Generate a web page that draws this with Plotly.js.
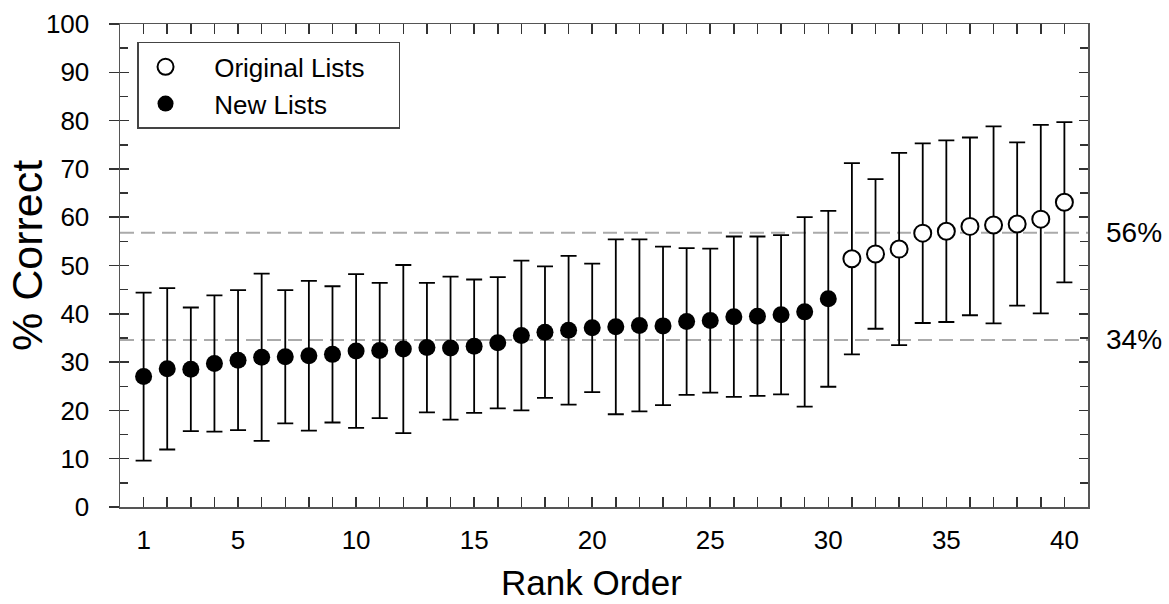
<!DOCTYPE html>
<html>
<head>
<meta charset="utf-8">
<script src="https://cdn.plot.ly/plotly-3.0.1.min.js"></script>
<style>
  html, body { margin: 0; padding: 0; background: #fff; }
  #chart { width: 1169px; height: 604px; }
</style>
</head>
<body>
<div id="chart"></div>
<script>
// Rank order positions
const newRanks = [1,2,3,4,5,6,7,8,9,10,11,12,13,14,15,16,17,18,19,20,21,22,23,24,25,26,27,28,29,30];
const origRanks = [31,32,33,34,35,36,37,38,39,40];

// Mean % correct
const newMeans = [27.0,28.6,28.5,29.7,30.4,31.0,31.1,31.3,31.6,32.3,32.4,32.7,33.0,32.9,33.3,34.0,35.5,36.2,36.6,37.1,37.3,37.6,37.5,38.4,38.6,39.4,39.5,39.8,40.4,43.1];
const origMeans = [51.4,52.4,53.4,56.7,57.1,58.1,58.4,58.6,59.6,63.1];

// Standard deviations (error bars)
const newSD = [17.4,16.7,12.8,14.1,14.5,17.3,13.8,15.5,14.1,15.9,14.0,17.4,13.4,14.8,13.8,13.6,15.5,13.6,15.4,13.3,18.1,17.8,16.4,15.2,14.9,16.6,16.5,16.5,19.6,18.2];
const origSD = [19.8,15.5,19.9,18.6,18.8,18.4,20.4,16.9,19.5,16.6];

// Reference lines (group means)
const refValues = [56.8, 34.6];
const refLabels = ["56%", "34%"];

const seriesNames = ["Original Lists", "New Lists"];
const xTitle = "Rank Order";
const yTitle = "% Correct";

const xTickVals = [1,5,10,15,20,25,30,35,40];
const xTickText = ["1","5","10","15","20","25","30","35","40"];

const FONT = "Liberation Sans, Arial, sans-serif";
const PAD_L = "\u00A0\u00A0\u00A0";
const PAD_R = "\u00A0\u00A0\u00A0\u00A0";

const traces = [
  {
    x: origRanks, y: origMeans, type: "scatter", mode: "markers",
    name: PAD_L + seriesNames[0] + PAD_R, legendgroup: "a",
    marker: { symbol: "circle", size: 17, color: "#ffffff", line: { color: "#000", width: 2 } },
    error_y: { type: "data", array: origSD, visible: true, color: "#000", thickness: 1.8, width: 8 },
    hoverinfo: "x+y"
  },
  {
    x: newRanks, y: newMeans, type: "scatter", mode: "markers",
    name: PAD_L + seriesNames[1], legendgroup: "b",
    marker: { symbol: "circle", size: 17, color: "#000000", line: { color: "#000", width: 0 } },
    error_y: { type: "data", array: newSD, visible: true, color: "#000", thickness: 1.8, width: 8 },
    hoverinfo: "x+y"
  },
  {
    x: [null], y: [null], type: "scatter", mode: "markers", yaxis: "y2",
    showlegend: false, hoverinfo: "skip"
  }
];

const shapes = refValues.map(v => ({
  type: "line", xref: "x", yref: "y", x0: 0, x1: 41, y0: v, y1: v,
  line: { color: "#aaaaaa", width: 2, dash: "14px,7px" }, layer: "below"
}));

const annotations = refValues.map((v, i) => ({
  xref: "paper", yref: "y", x: 1.017, y: v, xanchor: "left", yanchor: "middle",
  text: refLabels[i], showarrow: false, font: { family: FONT, size: 28, color: "#000" }
}));

annotations.push({
  xref: "paper", yref: "paper", x: -0.0961, y: 0.5217, xanchor: "center", yanchor: "middle",
  text: yTitle, textangle: -90, showarrow: false, font: { family: FONT, size: 43, color: "#000" }
});
annotations.push({
  xref: "paper", yref: "paper", x: 0.4866, y: -0.157, xanchor: "center", yanchor: "middle",
  text: xTitle, showarrow: false, borderpad: 0, font: { family: FONT, size: 35, color: "#000" }
});

const layout = {
  width: 1169, height: 604,
  margin: { l: 120, r: 81, t: 24, b: 97 },
  paper_bgcolor: "#fff", plot_bgcolor: "#fff",
  showlegend: true,
  font: { family: FONT, color: "#000" },
  xaxis: {
    range: [0, 41], showgrid: false, zeroline: false,
    showline: true, linecolor: "#555", linewidth: 1.5, mirror: "ticks",
    tickmode: "array", tickvals: xTickVals, ticktext: xTickText,
    ticks: "inside", ticklen: 10, tickwidth: 1.5, tickcolor: "#333",
    minor: { tickmode: "linear", tick0: 0, dtick: 1, ticks: "inside", ticklen: 10, tickwidth: 1.5, tickcolor: "#333" },
    tickfont: { family: FONT, size: 26, color: "#000" },
    ticklabelstandoff: 9,
    automargin: false,
    fixedrange: true
  },
  yaxis: {
    range: [0, 100], showgrid: false, zeroline: false,
    showline: true, linecolor: "#555", linewidth: 1.5, mirror: "ticks",
    tickmode: "linear", tick0: 0, dtick: 10,
    ticks: "inside", ticklen: 9, tickwidth: 1.5, tickcolor: "#333",
    minor: { tickmode: "linear", tick0: 0, dtick: 5, ticks: "inside", ticklen: 8, tickwidth: 1.5, tickcolor: "#333" },
    tickfont: { family: FONT, size: 26, color: "#000" },
    ticklabelstandoff: 24,
    automargin: false,
    fixedrange: true
  },
  yaxis2: {
    overlaying: "y", side: "left", anchor: "x", range: [0, 100],
    showgrid: false, zeroline: false, showline: false,
    tickmode: "linear", tick0: 0, dtick: 10,
    ticks: "outside", ticklen: 10, tickwidth: 1.5, tickcolor: "#333",
    showticklabels: false, fixedrange: true, automargin: false
  },
  legend: {
    x: 0.0176, y: 0.963, xanchor: "left", yanchor: "top",
    bgcolor: "#fff", bordercolor: "#444", borderwidth: 1.5,
    font: { family: FONT, size: 26, color: "#000" },
    traceorder: "grouped", tracegroupgap: 0, itemwidth: 44
  },
  shapes: shapes,
  annotations: annotations
};

Plotly.newPlot("chart", traces, layout, { displayModeBar: false, staticPlot: true });
</script>
</body>
</html>
